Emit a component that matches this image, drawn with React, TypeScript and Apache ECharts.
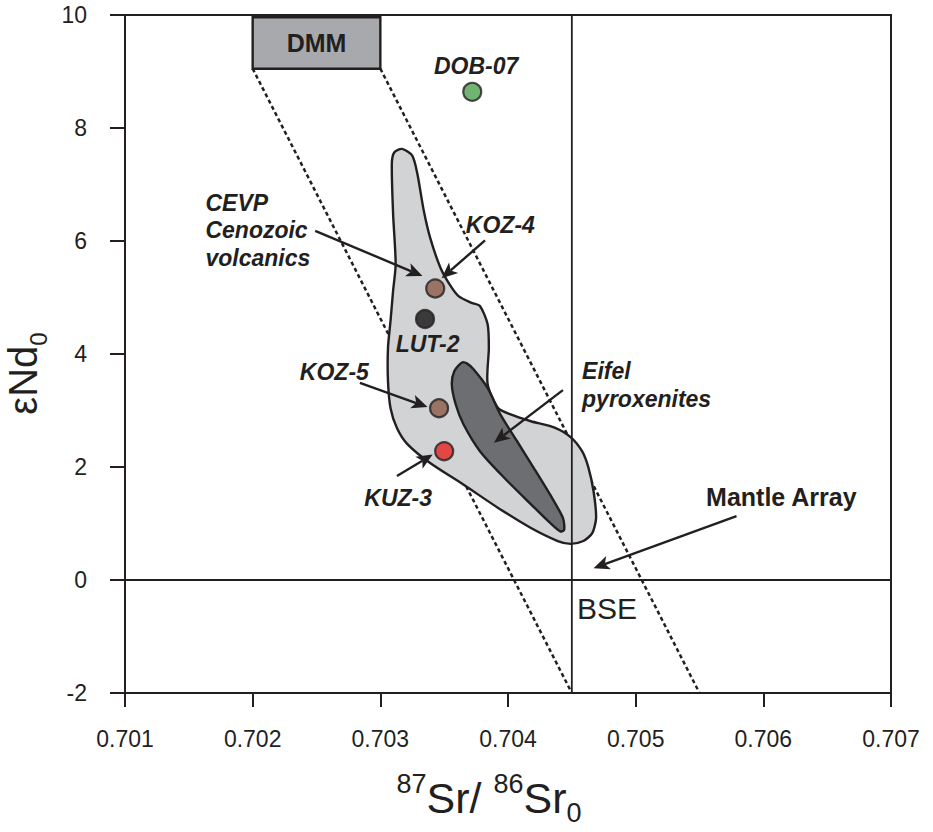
import React, { useEffect, useRef } from "react";
import * as echarts from "echarts";

const FONT = '"Liberation Sans", Arial, Helvetica, sans-serif';
const INK = "#231f20";

// ---- axes ----
const srMin = 0.701;
const srMax = 0.707;
const srStep = 0.001;
const ndMin = -2;
const ndMax = 10;
const ndStep = 2;

// ---- samples ----
const sampleNames = ["DOB-07", "KOZ-4", "LUT-2", "KOZ-5", "KUZ-3"];
const sampleSr = [0.70372, 0.70343, 0.70335, 0.70346, 0.7035];
const sampleNd = [8.64, 5.16, 4.62, 3.04, 2.28];
const sampleColors = ["#4da14f", "#8c5b47", "#141414", "#8c5b47", "#e52421"];

// ---- reference values ----
const bseSr = 0.7045;
const bseNd = 0;
const dmmSr = [0.702, 0.703];
const dmmNd = [9.05, 9.96];
const mantleLeft = [
  [0.702, 9.05],
  [0.7045, -2],
];
const mantleRight = [
  [0.703, 9.05],
  [0.7055, -2],
];

// ---- fields (outlines in Sr / eNd units) ----
const cevpField = [
  [0.70317, 7.63], [0.70325, 7.51], [0.70329, 7.19], [0.70334, 6.54], [0.70339, 6.06],
  [0.70347, 5.53], [0.70354, 5.24], [0.70361, 5.03], [0.70371, 4.91], [0.70378, 4.85],
  [0.70384, 4.53], [0.70385, 4.11], [0.70384, 3.47], [0.70392, 3.05], [0.70402, 2.93],
  [0.70418, 2.81], [0.70436, 2.7], [0.70449, 2.53], [0.70458, 2.28], [0.70463, 1.99],
  [0.70467, 1.57], [0.70469, 1.1], [0.70466, 0.83], [0.70459, 0.69], [0.70449, 0.64],
  [0.70439, 0.69], [0.70418, 0.92], [0.70392, 1.28], [0.70365, 1.69], [0.70339, 2.07],
  [0.70321, 2.41], [0.70313, 2.69], [0.70308, 3.04], [0.70306, 3.52], [0.70306, 4.11],
  [0.70308, 4.59], [0.7031, 5.12], [0.70312, 5.59], [0.7031, 6.48], [0.70309, 7.37],
  [0.70311, 7.57],
];
const eifelField = [
  [0.70364, 3.85], [0.70358, 3.7], [0.70356, 3.46], [0.70359, 3.11], [0.70365, 2.76],
  [0.70378, 2.28], [0.70397, 1.81], [0.70418, 1.34], [0.70433, 1.01], [0.70441, 0.86],
  [0.70444, 0.89], [0.70443, 1.1], [0.70433, 1.51], [0.7042, 1.99], [0.70407, 2.46],
  [0.70394, 2.93], [0.70384, 3.4], [0.70373, 3.73], [0.70368, 3.83],
];

// ---- arrows: [fromSr, fromNd, toSr, toNd] ----
const arrows = [
  [0.70249, 6.18, 0.70333, 5.38],
  [0.70382, 6.01, 0.70348, 5.34],
  [0.70284, 3.49, 0.70337, 3.06],
  [0.70313, 1.84, 0.70341, 2.22],
  [0.70443, 3.36, 0.70389, 2.43],
  [0.70579, 1.13, 0.70467, 0.21],
];

// ---- annotations: [text, Sr, eNd, kind] ----
const annotations: [string, number, number, string][] = [
  ["DMM", 0.7025, 9.505, "box"],
  ["DOB-07", 0.70375, 9.09, "sample"],
  ["KOZ-4", 0.70394, 6.29, "sample"],
  ["LUT-2", 0.70337, 4.18, "sample"],
  ["KOZ-5", 0.70264, 3.68, "sample"],
  ["KUZ-3", 0.70314, 1.46, "sample"],
  ["CEVP\nCenozoic\nvolcanics", 0.70163, 6.19, "field"],
  ["Eifel\npyroxenites", 0.70458, 3.45, "field"],
  ["Mantle Array", 0.706141, 1.475, "bold"],
  ["BSE", 0.70454, -0.5, "plain"],
];

const annotationStyle = (kind: string) => {
  switch (kind) {
    case "box":
      return { fontSize: 25, fontWeight: "bold", fontStyle: "normal", align: "center", lineHeight: 28 };
    case "sample":
      return { fontSize: 23, fontWeight: "bold", fontStyle: "italic", align: "center", lineHeight: 27 };
    case "field":
      return { fontSize: 23, fontWeight: "bold", fontStyle: "italic", align: "left", lineHeight: 27.4 };
    case "bold":
      return { fontSize: 25, fontWeight: "bold", fontStyle: "normal", align: "center", lineHeight: 28 };
    default:
      return { fontSize: 30, fontWeight: "normal", fontStyle: "normal", align: "left", lineHeight: 32 };
  }
};

const fieldSeries = (pts: number[][], fill: string, z: number) => ({
  type: "custom",
  coordinateSystem: "cartesian2d",
  silent: true,
  z,
  data: [pts[0]],
  renderItem: (_p: any, api: any) => ({
    type: "polygon",
    shape: { points: pts.map((p) => api.coord(p)), smooth: 0.25 },
    style: { fill, stroke: INK, lineWidth: 2.4 },
  }),
});

const option: any = {
  animation: false,
  backgroundColor: "#ffffff",
  textStyle: { fontFamily: FONT, color: INK },
  grid: {
    left: 125,
    right: 42,
    top: 15,
    bottom: 139,
    containLabel: false,
    outerBoundsMode: "none",
    show: true,
    borderColor: INK,
    borderWidth: 2,
    backgroundColor: "transparent",
  },
  xAxis: {
    type: "value",
    min: srMin,
    max: srMax,
    interval: srStep,
    splitLine: { show: false },
    axisLine: { onZero: false, lineStyle: { color: INK, width: 2 } },
    axisTick: { length: 14, lineStyle: { color: INK, width: 2 } },
    axisLabel: {
      formatter: (v: number) => v.toFixed(3),
      fontSize: 23,
      color: INK,
      margin: 34,
      fontFamily: FONT,
    },
    name: "{sup|87}{main|Sr/ }{sup|86}{main|Sr}{sub|0}",
    nameLocation: "middle",
    nameGap: 77,
    nameTextStyle: {
      padding: [0, 38, 0, 0],
      rich: {
        main: { fontSize: 43, lineHeight: 56, color: INK, fontFamily: FONT },
        sup: { fontSize: 27, lineHeight: 16, verticalAlign: "top", color: INK, fontFamily: FONT },
        sub: { fontSize: 27, lineHeight: 6, verticalAlign: "bottom", color: INK, fontFamily: FONT },
      },
    },
  },
  yAxis: {
    type: "value",
    min: ndMin,
    max: ndMax,
    interval: ndStep,
    splitLine: { show: false },
    axisLine: { onZero: false, lineStyle: { color: INK, width: 2 } },
    axisTick: { length: 15, lineStyle: { color: INK, width: 2 } },
    axisLabel: { fontSize: 23, color: INK, margin: 38, fontFamily: FONT },
    name: "{main|εNd}{sub|0}",
    nameLocation: "middle",
    nameGap: 68,
    nameRotate: 90,
    nameTextStyle: {
      padding: [0, 39, 0, 0],
      rich: {
        main: { fontSize: 40, lineHeight: 56, color: INK, fontFamily: FONT },
        sub: { fontSize: 24, lineHeight: 22, verticalAlign: "bottom", color: INK, fontFamily: FONT },
      },
    },
  },
  series: [
    {
      name: "Mantle Array (lower)",
      type: "line",
      z: 1,
      silent: true,
      symbol: "none",
      data: mantleLeft,
      lineStyle: { color: INK, width: 2.5, type: [4, 3] },
    },
    {
      name: "Mantle Array (upper)",
      type: "line",
      z: 1,
      silent: true,
      symbol: "none",
      data: mantleRight,
      lineStyle: { color: INK, width: 2.5, type: [4, 3] },
    },
    {
      name: "DMM",
      type: "custom",
      coordinateSystem: "cartesian2d",
      silent: true,
      z: 3,
      data: [[dmmSr[0], dmmNd[0], dmmSr[1], dmmNd[1]]],
      renderItem: (_p: any, api: any) => {
        const a = api.coord([api.value(0), api.value(1)]);
        const b = api.coord([api.value(2), api.value(3)]);
        return {
          type: "rect",
          shape: { x: a[0], y: b[1], width: b[0] - a[0], height: a[1] - b[1] },
          style: { fill: "#a7a9ac", stroke: INK, lineWidth: 2.4 },
        };
      },
    },
    fieldSeries(cevpField, "#d1d3d4", 2),
    fieldSeries(eifelField, "#6d6e71", 2),
    {
      name: "eNd = 0",
      type: "line",
      z: 4,
      silent: true,
      symbol: "none",
      data: [
        [srMin, bseNd],
        [srMax, bseNd],
      ],
      lineStyle: { color: INK, width: 1.8 },
    },
    {
      name: "BSE",
      type: "line",
      z: 4,
      silent: true,
      symbol: "none",
      data: [
        [bseSr, ndMin],
        [bseSr, ndMax],
      ],
      lineStyle: { color: INK, width: 1.8 },
    },
    {
      name: "arrows",
      type: "custom",
      coordinateSystem: "cartesian2d",
      silent: true,
      z: 5,
      data: arrows,
      encode: { x: [0, 2], y: [1, 3] },
      renderItem: (_p: any, api: any) => {
        const s = api.coord([api.value(0), api.value(1)]);
        const t = api.coord([api.value(2), api.value(3)]);
        const dx = t[0] - s[0];
        const dy = t[1] - s[1];
        const L = Math.hypot(dx, dy) || 1;
        const ux = dx / L;
        const uy = dy / L;
        const hl = 16;
        const hw = 7;
        const bx = t[0] - ux * hl;
        const by = t[1] - uy * hl;
        const nx = bx + ux * 4;
        const ny = by + uy * 4;
        return {
          type: "group",
          children: [
            {
              type: "line",
              shape: { x1: s[0], y1: s[1], x2: nx, y2: ny },
              style: { stroke: INK, lineWidth: 2.4 },
            },
            {
              type: "polygon",
              shape: {
                points: [t, [bx - uy * hw, by + ux * hw], [nx, ny], [bx + uy * hw, by - ux * hw]],
              },
              style: { fill: INK },
            },
          ],
        };
      },
    },
    {
      name: "samples",
      type: "scatter",
      z: 6,
      silent: true,
      symbol: "circle",
      symbolSize: 18,
      data: sampleNames.map((n, i) => ({
        name: n,
        value: [sampleSr[i], sampleNd[i]],
        itemStyle: { color: sampleColors[i], borderColor: INK, borderWidth: 2.2 },
      })),
    },
    {
      name: "annotations",
      type: "custom",
      coordinateSystem: "cartesian2d",
      silent: true,
      z: 7,
      data: annotations.map((a) => [a[1], a[2]]),
      renderItem: (p: any, api: any) => {
        const a = annotations[p.dataIndex];
        const pt = api.coord([a[1], a[2]]);
        const st = annotationStyle(a[3]);
        return {
          type: "text",
          x: pt[0],
          y: pt[1],
          style: {
            text: a[0],
            fill: INK,
            fontFamily: FONT,
            fontSize: st.fontSize,
            fontWeight: st.fontWeight,
            fontStyle: st.fontStyle,
            align: st.align,
            verticalAlign: "middle",
            lineHeight: st.lineHeight,
          },
        };
      },
    },
  ],
};

export default function App() {
  const ref = useRef<HTMLDivElement>(null);
  useEffect(() => {
    const chart = echarts.init(ref.current!, null, { renderer: "svg" });
    chart.setOption(option);
    return () => chart.dispose();
  }, []);
  return (
    <div
      ref={ref}
      style={{ position: "fixed", left: 0, top: 0, width: 933, height: 832, background: "#fff" }}
    />
  );
}
